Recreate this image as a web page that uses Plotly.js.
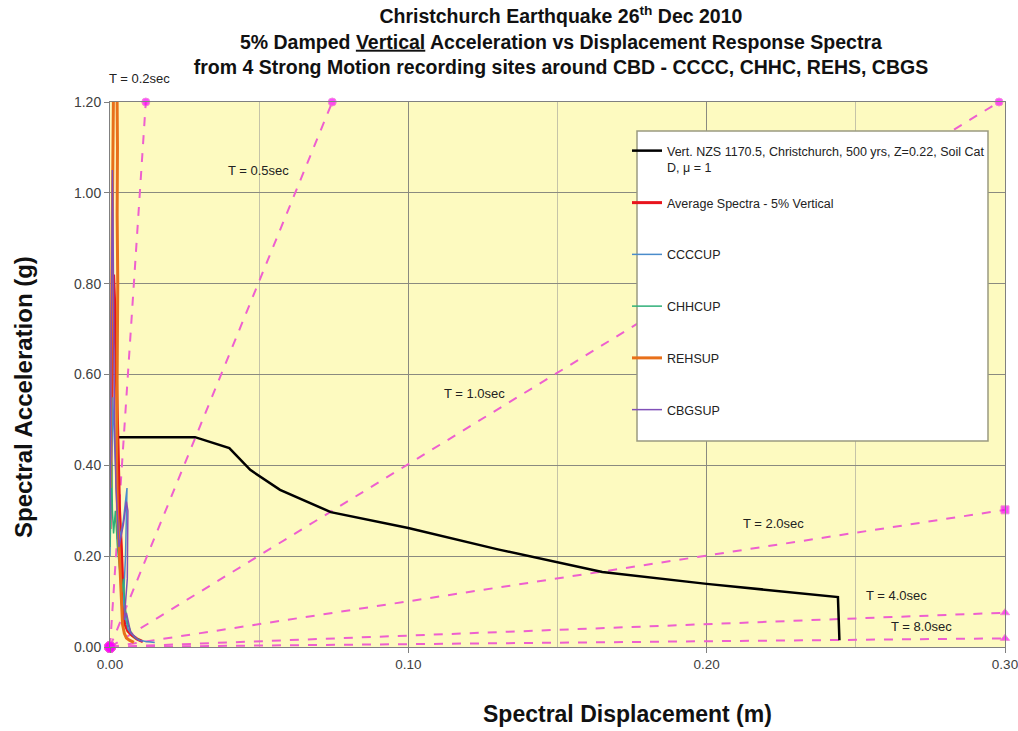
<!DOCTYPE html>
<html>
<head>
<meta charset="utf-8">
<script src="https://cdn.plot.ly/plotly-3.0.1.min.js"></script>
<style>html,body{margin:0;padding:0;background:#fff;}#chart{width:1018px;height:731px;}</style>
</head>
<body>
<div id="chart"></div>
<script>
// ---- Data ----
// NZS 1170.5 vertical design spectrum (Sd in m, Sa in g)
const nzsSd = [0.0023, 0.0285, 0.040, 0.047, 0.057, 0.074, 0.100, 0.130, 0.165, 0.200, 0.244, 0.2445];
const nzsSa = [0.462, 0.462, 0.438, 0.390, 0.346, 0.297, 0.262, 0.215, 0.165, 0.139, 0.110, 0.015];

// Average recorded spectrum
const avgSd = [0, 0.0004, 0.0008, 0.0012, 0.0016, 0.0020, 0.0026, 0.0032, 0.0038, 0.0042, 0.0040, 0.0045, 0.0050, 0.0060, 0.0075, 0.0090, 0.0110];
const avgSa = [0.26, 0.48, 0.72, 0.82, 0.75, 0.62, 0.45, 0.30, 0.22, 0.15, 0.10, 0.07, 0.05, 0.035, 0.025, 0.018, 0.012];

// CCCCUP
const ccccSd = [0, 0.0003, 0.0006, 0.0009, 0.0012, 0.0018, 0.0025, 0.0035, 0.0045, 0.0057, 0.0052, 0.0045, 0.0050, 0.0060, 0.0070, 0.0085, 0.0100, 0.0120, 0.0150];
const ccccSa = [0.20, 0.35, 0.48, 0.55, 0.50, 0.40, 0.30, 0.24, 0.28, 0.35, 0.20, 0.10, 0.07, 0.04, 0.03, 0.02, 0.015, 0.012, 0.010];

// CHHCUP
const chhcSd = [0, 0.0003, 0.0006, 0.0008, 0.0012, 0.0018, 0.0025, 0.0032, 0.0040, 0.0045, 0.0050, 0.0060, 0.0072, 0.0085, 0.0100];
const chhcSa = [0.22, 0.42, 0.40, 0.30, 0.25, 0.30, 0.22, 0.18, 0.12, 0.15, 0.09, 0.05, 0.03, 0.02, 0.015];

// REHSUP
const rehsSd = [0, 0.0006, 0.0012, 0.0018, 0.0022, 0.0025, 0.0024, 0.0026, 0.0024, 0.0022, 0.0025, 0.0030, 0.0035, 0.0038, 0.0040, 0.0042, 0.0045, 0.0048, 0.0055, 0.0065, 0.0080];
const rehsSa = [0.35, 0.75, 1.25, 1.40, 1.35, 1.10, 0.95, 0.80, 0.55, 0.40, 0.30, 0.22, 0.15, 0.10, 0.07, 0.05, 0.04, 0.03, 0.02, 0.015, 0.010];

// CBGSUP
const cbgsSd = [0, 0.0002, 0.0005, 0.0008, 0.0010, 0.0012, 0.0015, 0.0020, 0.0030, 0.0045, 0.0055, 0.0060, 0.0058, 0.0050, 0.0048, 0.0055, 0.0062, 0.0070, 0.0080, 0.0095, 0.0110];
const cbgsSa = [0.28, 0.45, 0.80, 1.05, 0.95, 0.70, 0.50, 0.35, 0.22, 0.27, 0.32, 0.30, 0.15, 0.08, 0.06, 0.075, 0.05, 0.03, 0.025, 0.015, 0.012];

// Constant-period radial lines: end points (origin to end)
const periodLabels = ["T = 0.2sec", "T = 0.5sec", "T = 1.0sec", "T = 2.0sec", "T = 4.0sec", "T = 8.0sec"];
const periodEndSd = [0.012, 0.0745, 0.298, 0.30, 0.30, 0.30];
const periodEndSa = [1.20, 1.20, 1.20, 0.302, 0.0755, 0.019];
const periodEndSymbol = ["circle", "circle", "circle", "square", "triangle-up", "triangle-up"];
const periodLabelSd = [0.0097, 0.0499, 0.1223, 0.2225, 0.2635, 0.2720];
const periodLabelSa = [1.252, 1.050, 0.559, 0.271, 0.1145, 0.046];

// Legend names
const seriesNames = [
  "Vert. NZS 1170.5, Christchurch, 500 yrs, Z=0.22, Soil Cat<br>D, \u03bc = 1",
  "Average Spectra - 5% Vertical",
  "CCCCUP", "CHHCUP", "REHSUP", "CBGSUP"
];

// ---- Traces ----
const pink = "#EE5FCF";
const traces = [];
periodLabels.forEach((lab, i) => {
  traces.push({
    x: [0, periodEndSd[i]], y: [0, periodEndSa[i]],
    type: "scatter", mode: "lines+markers", showlegend: false, hoverinfo: "skip",
    cliponaxis: false,
    line: {color: pink, width: 2, dash: "dash"},
    marker: {color: "#FF00FF", size: [11, 8], symbol: ["circle", periodEndSymbol[i]]}
  });
});

const series = [
  {x: nzsSd, y: nzsSa, color: "#000000", w: 2.5},
  {x: avgSd, y: avgSa, color: "#E8141C", w: 3},
  {x: ccccSd, y: ccccSa, color: "#4A8CCB", w: 1.5},
  {x: chhcSd, y: chhcSa, color: "#2FAF78", w: 1.5},
  {x: rehsSd, y: rehsSa, color: "#E8701A", w: 3},
  {x: cbgsSd, y: cbgsSa, color: "#8050B8", w: 1.5}
];
series.forEach((s, i) => {
  traces.push({
    x: s.x, y: s.y, type: "scatter", mode: "lines", name: seriesNames[i],
    legend: i === 0 ? "legend" : "legend2",
    legendgroup: "g" + i, legendrank: i + 1,
    line: {color: s.color, width: s.w}
  });
});

const labelFont = {family: "Liberation Sans, Arial", size: 13, color: "#222"};
const annotations = periodLabels.map((lab, i) => {
  if (i === 0) {
    // label sits above the plot area
    return {x: (139 - 110) / 895, y: (647 - 78) / 545, xref: "paper", yref: "paper",
      xanchor: "center", yanchor: "middle", text: lab, showarrow: false, font: labelFont};
  }
  return {x: periodLabelSd[i], y: periodLabelSa[i], xref: "x", yref: "y",
    text: lab, showarrow: false, font: labelFont};
});
const axisTitleFont = {family: "Liberation Sans, Arial", size: 23, color: "#111"};
annotations.push({
  x: (627 - 110) / 895, y: (647 - 714) / 545, xref: "paper", yref: "paper",
  xanchor: "center", yanchor: "middle", showarrow: false,
  text: "<b>Spectral Displacement (m)</b>", font: axisTitleFont
});
annotations.push({
  x: (23 - 110) / 895, y: (647 - 397) / 545, xref: "paper", yref: "paper",
  xanchor: "center", yanchor: "middle", showarrow: false, textangle: -90,
  text: "<b>Spectral Acceleration (g)</b>",
  font: {family: "Liberation Sans, Arial", size: 24, color: "#111"}
});

const legendFont = {family: "Liberation Sans, Arial", size: 12.5, color: "#222"};
const layout = {
  width: 1018, height: 731,
  margin: {l: 110, r: 13, t: 102, b: 84},
  paper_bgcolor: "#ffffff",
  plot_bgcolor: "#FDFAC0",
  title: {
    text: "<b>Christchurch Earthquake 26<sup>th</sup> Dec 2010<br>5% Damped <u>Vertical</u> Acceleration vs Displacement Response Spectra<br>from 4 Strong Motion recording sites around CBD - CCCC, CHHC, REHS, CBGS</b>",
    x: 0.551, xanchor: "center", y: 0.968, yanchor: "top",
    font: {family: "Liberation Sans, Arial", size: 19.5, color: "#111"}
  },
  xaxis: {
    range: [0, 0.30], dtick: 0.1, tick0: 0, tickformat: ".2f",
    showgrid: true, gridcolor: "#8a8a80", gridwidth: 1,
    minor: {dtick: 0.05, showgrid: true, gridcolor: "#c5c3a8", gridwidth: 1},
    showline: true, linecolor: "#808080", linewidth: 1, mirror: true,
    ticks: "outside", ticklen: 5, tickcolor: "#808080",
    zeroline: false, ticklabeloverflow: "allow",
    tickfont: {family: "Liberation Sans, Arial", size: 13.5, color: "#404040"}
  },
  yaxis: {
    range: [0, 1.20], dtick: 0.2, tick0: 0, tickformat: ".2f",
    showgrid: true, gridcolor: "#8a8a80", gridwidth: 1,
    showline: true, linecolor: "#808080", linewidth: 1, mirror: true,
    ticks: "outside", ticklen: 5, tickcolor: "#808080",
    zeroline: false,
    tickfont: {family: "Liberation Sans, Arial", size: 14, color: "#404040"}
  },
  shapes: [{
    type: "rect", xref: "paper", yref: "paper", layer: "above",
    x0: (637 - 110) / 895, x1: (988 - 110) / 895,
    y0: (647 - 441) / 545, y1: (647 - 131) / 545,
    fillcolor: "#ffffff", line: {color: "#9a9a80", width: 1.5}
  }],
  legend: {
    x: (627 - 110) / 895, xanchor: "left",
    y: (647 - 136) / 545, yanchor: "top",
    bgcolor: "rgba(0,0,0,0)", borderwidth: 0, valign: "top",
    font: legendFont
  },
  legend2: {
    x: (627 - 110) / 895, xanchor: "left",
    y: (647 - 188) / 545, yanchor: "top",
    bgcolor: "rgba(0,0,0,0)", borderwidth: 0, valign: "top",
    traceorder: "grouped", tracegroupgap: 32.5,
    font: legendFont
  },
  annotations: annotations,
  showlegend: true
};

Plotly.newPlot("chart", traces, layout, {displayModeBar: false, staticPlot: true});
</script>
</body>
</html>
